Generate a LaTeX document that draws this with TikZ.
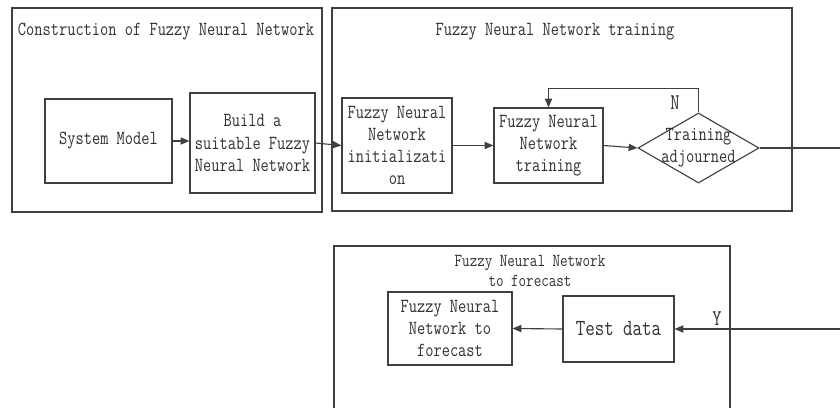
\documentclass[tikz,border=0pt]{standalone}
\usepackage{tikz}
\usepackage{xcolor}
\usepackage{fontspec}
\setmainfont{Latin Modern Mono}[FakeStretch=0.8]
\usetikzlibrary{shapes.geometric,arrows.meta}
\definecolor{linegray}{HTML}{404040}
\definecolor{textgray}{HTML}{303030}

\begin{document}
\begin{tikzpicture}[
				x=0.025cm, y=-0.025cm,
				font=\fontsize{14.2}{15.8}\selectfont,
				every node/.style={text=textgray},
				process/.style={rectangle, draw=linegray, thick, align=center, inner sep=1pt},
				decision/.style={diamond, draw=linegray, thick, inner sep=0pt, minimum width=3.025cm, minimum height=1.75cm},
				group/.style={draw=linegray, thick},
				flow/.style={draw=linegray, thick, -{Triangle[length=2.2mm,width=1.8mm]}},
				plain/.style={draw=linegray, thick}
				]
				\useasboundingbox (0,0) rectangle (840,407);
				
				\draw[group] (12,8) rectangle (322,212);
				\draw[group] (332,8) rectangle (792,211);
				\draw[group] (334,246) rectangle (730,430);
				\node (title1) at (166,32) {Construction of Fuzzy Neural Network};
				\node (title2) at (555,32) {Fuzzy Neural Network training};
				\node[align=center, font=\fontsize{13}{14.2}\selectfont] (title3) at (530,271) {Fuzzy Neural Network\\to forecast};
				
				\node[process, minimum width=3.175cm, minimum height=2.1cm] (sysmodel) at (108.5,141) {System Model};
				\node[process, minimum width=3.125cm, minimum height=2.5cm] (build) at (252.5,143) {Build a\\suitable Fuzzy\\Neural Network};
				\node[process, minimum width=2.75cm, minimum height=2.375cm] (init) at (397,145.5) {Fuzzy Neural\\Network\\initializati\\on};
				\node[process, minimum width=2.725cm, minimum height=1.875cm] (train) at (548.5,145.5) {Fuzzy Neural\\Network\\training};
				\node[decision] (judge) at (698.5,148) {};
				\node[align=center] (judgetext) at (judge.center) {Training\\adjourned};
				\node[process, minimum width=2.775cm, minimum height=1.65cm, font=\fontsize{16.4}{18}\selectfont] (test) at (618.5,329) {Test data};
				\node[process, minimum width=3.1cm, minimum height=1.825cm] (forecast) at (450,328.5) {Fuzzy Neural\\Network to\\forecast};
				
				\coordinate (turnA) at (850,148);
				\coordinate (turnB) at (850,329);
				
				\draw[flow] (sysmodel.east) -- (sysmodel.east -| build.west);
				\draw[flow] (build.east) -- (init.west);
				\draw[flow] (init.east) -- (train.west);
				\draw[flow] (train.east) -- (judge.west);
				\draw[flow] (judge.north) -- ++(0,-24) -| (train.north);
				\draw[flow] (judge.east) -- (turnA) -- (turnB) -- (test.east);
				\draw[flow] (test.west) -- (forecast.east);
				
				\node[font=\fontsize{16}{18}\selectfont] (nlabel) at (675,103) {N};
				\node[font=\fontsize{16}{18}\selectfont] (ylabel) at (717,319) {Y};
			\end{tikzpicture}
\end{document}
